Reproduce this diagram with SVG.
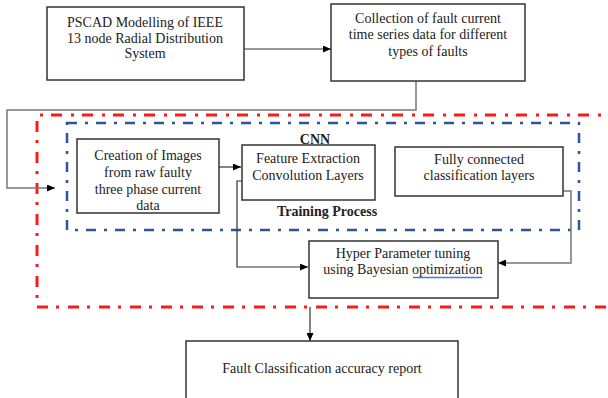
<svg xmlns="http://www.w3.org/2000/svg" width="608" height="398" viewBox="0 0 608 398">
<defs>
<style>
.box{fill:#fff;stroke:#333;stroke-width:1.5}
.t{font-family:"Liberation Serif","Times New Roman",serif;font-size:14px;fill:#222;text-anchor:middle}
.b{font-weight:bold}
.c{fill:none;stroke:#333;stroke-width:1.2}
.g{fill:none;stroke:#777;stroke-width:1.5}
.red{fill:none;stroke:#ff1a1a;stroke-width:3;stroke-dasharray:11 8 3 9}
.blue{fill:none;stroke:#2f5597;stroke-width:2.5;stroke-dasharray:10 8 3 8}
</style>
<marker id="ah" viewBox="0 0 8 7" refX="8" refY="3.5" markerWidth="8" markerHeight="7" markerUnits="userSpaceOnUse" orient="auto">
<path d="M0,0 L8,3.5 L0,7 z" fill="#000"/>
</marker>
</defs>
<rect width="608" height="398" fill="#fff"/>
<g id="regions">
<path class="red" d="M620 115 H37 V307 H620"/>
<rect class="blue" x="67" y="123" width="512" height="107"/>
<text class="t b" x="315" y="144">CNN</text>
<text class="t b" x="327" y="216">Training Process</text>
</g>
<g id="connectors">
<path class="c" d="M244 49 H331" marker-end="url(#ah)"/>
<path class="g" d="M416 81 V110 H7 V188 H55" marker-end="url(#ah)"/>
<path class="c" d="M219 167 H241" marker-end="url(#ah)"/>
<path class="c" d="M242 181 H237 V267 H308" marker-end="url(#ah)"/>
<path class="g" d="M563 191 H571 V263 H498" marker-end="url(#ah)"/>
<path class="c" d="M310 307 V341" marker-end="url(#ah)"/>
</g>
<g id="pscad">
<rect class="box" x="47" y="7" width="197" height="73"/>
<text class="t" x="145" y="27">PSCAD Modelling of IEEE</text>
<text class="t" x="145" y="43">13 node Radial Distribution</text>
<text class="t" x="145" y="58">System</text>
</g>
<g id="collection">
<rect class="box" x="331" y="4" width="194" height="77"/>
<text class="t" x="428" y="23">Collection of fault current</text>
<text class="t" x="428" y="39">time series data for different</text>
<text class="t" x="428" y="56">types of faults</text>
</g>
<g id="creation">
<rect class="box" x="77" y="139" width="142" height="74"/>
<text class="t" x="148" y="160">Creation of Images</text>
<text class="t" x="148" y="177">from raw faulty</text>
<text class="t" x="148" y="194">three phase current</text>
<text class="t" x="148" y="210">data</text>
</g>
<g id="feature">
<rect class="box" x="242" y="145" width="133" height="55"/>
<text class="t" x="308" y="163">Feature Extraction</text>
<text class="t" x="308" y="180">Convolution Layers</text>
</g>
<g id="fully">
<rect class="box" x="395" y="147" width="168" height="49"/>
<text class="t" x="479" y="164">Fully connected</text>
<text class="t" x="479" y="180">classification layers</text>
</g>
<g id="hyper">
<rect class="box" x="309" y="241" width="189" height="57"/>
<text class="t" x="403" y="258">Hyper Parameter tuning</text>
<text class="t" x="403" y="274">using Bayesian optimization</text>
<path d="M413 277.5 H482" stroke="#4a7bd8" stroke-width="1.3" fill="none"/>
</g>
<g id="report">
<rect class="box" x="186" y="341" width="272" height="70"/>
<text class="t" x="322" y="373">Fault Classification accuracy report</text>
</g>
</svg>
